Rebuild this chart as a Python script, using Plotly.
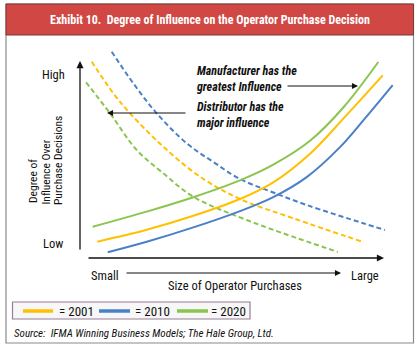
import plotly.graph_objects as go

# ---- data (x: size of operator purchases 0-100, y: degree of influence 0-100) ----
years = ["2001", "2010", "2020"]
colors = {"2001": "#FFC000", "2010": "#4A80C8", "2020": "#8CC450"}

# Manufacturer influence (solid)
manu_x = {
    "2020": [3.97, 20.84, 35.41, 50.0, 60.4, 71.88, 82.28, 93.22],
    "2001": [5.41, 20.84, 35.41, 50.0, 60.4, 71.88, 82.28, 94.6],
    "2010": [8.66, 20.84, 35.41, 50.0, 60.4, 70.84, 81.25, 89.06, 97.72],
}
manu_y = {
    "2020": [15.86, 23.05, 29.9, 37.9, 45.38, 56.76, 72.62, 94.29],
    "2001": [8.71, 14.38, 21.05, 29.05, 36.98, 50.62, 67.29, 87.9],
    "2010": [3.67, 8.67, 15.52, 23.29, 29.95, 39.48, 53.76, 67.45, 83.29],
}
# Distributor influence (dashed)
dist_x = {
    "2020": [1.88, 9.38, 17.72, 26.03, 35.41, 52.1, 80.6],
    "2001": [3.66, 10.41, 15.63, 26.03, 37.5, 50.0, 66.66, 88.44],
    "2010": [9.9, 16.66, 23.97, 33.34, 41.66, 50.0, 60.4, 70.84, 88.53, 95.3],
}
dist_y = {
    "2020": [84.62, 69.86, 52.38, 41.29, 30.14, 19.05, 3.81],
    "2001": [94.43, 79.38, 69.86, 53.95, 39.67, 29.05, 19.86, 8.57],
    "2010": [99.19, 84.14, 69.86, 55.57, 46.67, 38.57, 32.14, 26.19, 17.48, 14.29],
}

title_text = "Exhibit 10.  Degree of Influence on the Operator Purchase Decision"
source_text = "Source:  IFMA Winning Business Models; The Hale Group, Ltd."
ytitle_lines = ["Degree of", "Influence Over", "Purchase Decisions"]

W, H = 420, 350
ML, MR, MT, MB = 80, 20, 50, 90
PW, PH = W - ML - MR, H - MT - MB


def px(x):
    return (x - ML) / PW


def py(y):
    return (MT + PH - y) / PH


FONT = "Roboto Condensed, Liberation Sans Narrow, Arial Narrow, Liberation Sans, sans-serif"

fig = go.Figure()
for yr in years:
    fig.add_trace(go.Scatter(x=dist_x[yr], y=dist_y[yr], mode="lines",
                             line=dict(color=colors[yr], width=2, dash="5px,3px", shape="spline", smoothing=1),
                             showlegend=False, hoverinfo="skip"))
for yr in years:
    fig.add_trace(go.Scatter(x=manu_x[yr], y=manu_y[yr], mode="lines",
                             line=dict(color=colors[yr], width=2, shape="spline", smoothing=1),
                             showlegend=False, hoverinfo="skip"))

shapes = []
# outer border
shapes.append(dict(type="rect", xref="paper", yref="paper", x0=px(6), x1=px(413.5), y0=py(4), y1=py(343),
                   line=dict(color="#8a8a8a", width=1.2), fillcolor="rgba(0,0,0,0)", layer="below"))
# header band
shapes.append(dict(type="rect", xref="paper", yref="paper", x0=px(6), x1=px(413.5), y0=py(4), y1=py(35),
                   line=dict(color="#7a3a38", width=1), fillcolor="#D04744", layer="below"))
# legend box
shapes.append(dict(type="rect", xref="paper", yref="paper", x0=px(12.5), x1=px(250), y0=py(302), y1=py(319),
                   line=dict(color="#9a7d98", width=1.2), fillcolor="#F7F7F7", layer="below"))
leg_pos = [(23, 53, 57), (99, 130, 133), (177, 208, 209)]
annotations = []
for yr, (a, b, t) in zip(years, leg_pos):
    shapes.append(dict(type="line", xref="paper", yref="paper", x0=px(a), x1=px(b), y0=py(311), y1=py(311),
                       line=dict(color=colors[yr], width=3.5)))
    annotations.append(dict(text="= " + yr, xref="paper", yref="paper", x=px(t), y=py(311.5),
                            xanchor="left", yanchor="middle", showarrow=False,
                            font=dict(family=FONT, size=13, color="#111")))

# title
annotations.append(dict(text="<b>" + title_text + "</b>", xref="paper", yref="paper", x=px(210), y=py(20),
                        xanchor="center", yanchor="middle", showarrow=False,
                        font=dict(family=FONT, size=12, color="white")))
# source
annotations.append(dict(text="<i>" + source_text + "</i>", xref="paper", yref="paper", x=px(12), y=py(333),
                        xanchor="left", yanchor="middle", showarrow=False,
                        font=dict(family=FONT, size=11, color="#111")))


def arrow(x0, y0, x1, y1, width=1.3):
    # tail (x0,y0) -> head (x1,y1), pixel coords
    return dict(text="", xref="paper", yref="paper", x=px(x1), y=py(y1), ax=x0 - x1, ay=y0 - y1,
                showarrow=True, arrowhead=2, arrowsize=1.1, arrowwidth=width, arrowcolor="#111")


annotations += [
    arrow(80, 251, 80, 61),
    arrow(87, 258, 384, 258),
    arrow(125, 273, 341, 273, 1.1),
    arrow(286, 86, 358, 86, 1.1),
    arrow(187, 113, 107, 113, 1.1),
]


def txt(s, x, y, xa="center", size=12.5, **kw):
    return dict(text=s, xref="paper", yref="paper", x=px(x), y=py(y), xanchor=xa, yanchor="middle",
                showarrow=False, font=dict(family=FONT, size=size, color="#111"), **kw)


annotations += [
    txt("High", 53, 74),
    txt("Low", 53, 243),
    txt("Small", 105, 275),
    txt("Large", 365, 275),
    txt("Size of Operator Purchases", 235, 285),
]
for line, (lx, ly) in zip(ytitle_lines, [(33, 181), (45.5, 172), (58, 161)]):
    annotations.append(txt(line, lx, ly, size=11.5, textangle=-90))

annotations += [
    dict(text="<b><i>Manufacturer has the<br>greatest Influence</i></b>", xref="paper", yref="paper",
         x=px(194), y=py(79), xanchor="left", yanchor="middle", align="left", showarrow=False,
         font=dict(family=FONT, size=12, color="#111")),
    dict(text="<b><i>Distributor has the<br>major influence</i></b>", xref="paper", yref="paper",
         x=px(194), y=py(115), xanchor="left", yanchor="middle", align="left", showarrow=False,
         font=dict(family=FONT, size=12, color="#111")),
]

fig.update_layout(
    width=W, height=H, margin=dict(l=ML, r=MR, t=MT, b=MB),
    paper_bgcolor="white", plot_bgcolor="white",
    xaxis=dict(range=[0, 100], visible=False, fixedrange=True),
    yaxis=dict(range=[0, 100], visible=False, fixedrange=True),
    shapes=shapes, annotations=annotations, showlegend=False,
)
fig.write_html("out.html")
